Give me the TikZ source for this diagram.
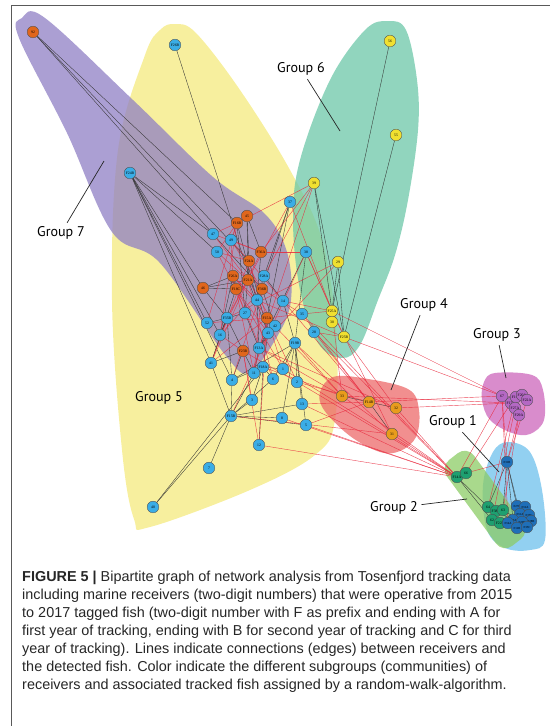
\documentclass[tikz,border=0pt]{standalone}
\usepackage{fontspec}
\setmainfont{Liberation Sans}
\newfontfamily\grpfont{PT Sans}
\newfontfamily\vtxfont{Liberation Serif}
\usetikzlibrary{positioning}

\definecolor{hullseven}{HTML}{8F7FC4}
\definecolor{hullfive}{HTML}{F4EA7E}
\definecolor{hullsix}{HTML}{6CC7A8}
\definecolor{hullfour}{HTML}{EC6A6A}
\definecolor{hullthree}{HTML}{CC66BB}
\definecolor{hullone}{HTML}{6EC0EC}
\definecolor{hulltwo}{HTML}{8CCC66}
\definecolor{vblue}{HTML}{3AADE6}
\definecolor{vorange}{HTML}{E0661C}
\definecolor{vyellow}{HTML}{F0E030}
\definecolor{vgold}{HTML}{E89C1C}
\definecolor{vmagenta}{HTML}{B468C4}
\definecolor{vdarkblue}{HTML}{1F6FB8}
\definecolor{vgreen}{HTML}{1EA070}
\definecolor{edgered}{HTML}{E8283C}

\pgfdeclarelayer{hulls}
\pgfdeclarelayer{edges}
\pgfsetlayers{hulls,edges,main}

\tikzset{
  vtx/.style={circle, draw=black!70, line width=0.3pt, minimum size=3.5mm, inner sep=0pt,
    font=\vtxfont\fontsize{3.2}{3.2}\selectfont},
  bluevtx/.style={vtx, fill=vblue},
  orangevtx/.style={vtx, fill=vorange},
  yellowvtx/.style={vtx, fill=vyellow},
  goldvtx/.style={vtx, fill=vgold},
  magentavtx/.style={vtx, fill=vmagenta},
  darkbluevtx/.style={vtx, fill=vdarkblue, font=\vtxfont\fontsize{2.6}{2.6}\selectfont},
  greenvtx/.style={vtx, fill=vgreen},
  darkedge/.style={black!80, line width=0.3pt},
  rededge/.style={edgered, line width=0.35pt, opacity=0.85},
  hull/.style={fill opacity=0.75},
  grplabel/.style={font=\grpfont\fontsize{12}{12}\selectfont, inner sep=3pt},
  leader/.style={black!85, line width=0.6pt}
}

\begin{document}
\begin{tikzpicture}[x=0.03cm, y=-0.03cm]
\useasboundingbox (0,0) rectangle (550,726);

% Frame
\draw[black!65, line width=0.7pt] (11.5,726) -- (11.5,5.5) -- (550,5.5);

% Group hulls
\begin{pgfonlayer}{hulls}
\fill[hullfive, hull] plot[smooth cycle, tension=0.6] coordinates {
  (175,24) (196,33) (240,90) (290,170) (322,240) (336,330) (335,420) (315,455)
  (250,490) (150,527) (134,519) (122,450) (112,300) (118,150) (145,55) (160,30)};
\fill[hullseven, hull] plot[smooth cycle, tension=0.6] coordinates {
  (22,18) (45,18) (133,100) (213,177) (265,214) (287,252) (291,300) (278,335)
  (250,372) (226,356) (160,263) (112,232) (67,133) (19,38)};
\fill[hullsix, hull] plot[smooth cycle, tension=0.6] coordinates {
  (388,21) (406,30) (417,80) (418,130) (408,200) (395,255) (378,300) (360,345)
  (342,358) (318,343) (300,290) (293,220) (300,160) (330,80) (365,30)};
\fill[hullfour, hull] plot[smooth cycle, tension=0.6] coordinates {
  (333,377) (362,378) (408,389) (419,410) (416,437) (400,451) (380,452)
  (350,436) (324,410) (320,392)};
\fill[hullthree, hull] plot[smooth cycle, tension=0.6] coordinates {
  (495,373) (532,375) (543,390) (544,420) (530,434) (512,433) (490,420) (482,400) (484,382)};
\fill[hullone, hull] plot[smooth cycle, tension=0.6] coordinates {
  (508,442) (530,452) (542,490) (545,540) (530,550) (505,548) (487,530) (483,485) (493,452)};
\fill[hulltwo, hull, rounded corners=3.5mm] (440,467) -- (467,446) -- (530,532) -- (503,553) -- cycle;
\end{pgfonlayer}

% Group 7
\foreach \n/\x/\y/\t in {r92/33/32/92, r45/247/216/45, fF16B/237/223/F16B,
  fF36A/261/252/F36A, fF24A/249/261/F24A, fF26A/233/276/F26A, fF21A/248/280/F21A,
  fF18C/236/289/F18C, fF36B/262/289/F36B, r46/203/288/46, fF15A/267/318/F15A,
  fF23B/243/351/F23B}
  \node[orangevtx] (\n) at (\x,\y) {\t};

% Group 5
\foreach \n/\x/\y/\t in {fF26B/175/45/F26B, fF24B/130/173/F24B, r47/213/234/47,
  r49/231/240/49, r50/217/252/50, fF28A/264/276/F28A, r44/257/300/44, r14/283/301/14,
  r52/207/323/52, fF35B/227/318/F35B, r27/245/313/27, r42/275/326/42, r43/268/333/43,
  r16/220/335/16, fF13A/259/348/F13A, r41/211/363/41, fF18A/263/367/F18A, r11/254/373/11,
  r1/283/369/1, r6/273/379/6, r4/232/380/4, r2/297/382/2, r3/252/400/3, r13/302/404/13,
  fF15B/231/416/F15B, r8/282/418/8, r5/306/425/5, r12/259/445/12, r7/209/468/7,
  r40/153/507/40, fF19B/295/343/F19B, r37/290/202/37, r38/306/252/38, r35/302/314/35,
  r28/314/332/28}
  \node[bluevtx] (\n) at (\x,\y) {\t};

% Group 6
\foreach \n/\x/\y/\t in {r56/390/41/56, r55/396/135/55, r39/314/183/39, r29/338/262/29,
  fF25A/332/311/F25A, r30/332/322/30, fF25B/344/337/F25B}
  \node[yellowvtx] (\n) at (\x,\y) {\t};

% Group 4
\foreach \n/\x/\y/\t in {r33/342/396/33, fF14B/369/402/F14B, r32/396/408/32, r31/392/434/31}
  \node[goldvtx] (\n) at (\x,\y) {\t};

% Group 3
\foreach \n/\x/\y/\t in {r67/502/396/67, fF17A/511/403/F17A, fF19C/516/397/F19C,
  fF20A/522/395/F20A, fF22A/527/400/F22A, fF27A/515/408/F27A, fF29A/519/415/F29A}
  \node[magentavtx] (\n) at (\x,\y) {\t};

% Group 2
\foreach \n/\x/\y/\t in {fF14A/457/477/F14A, r66/466/473/66, r64/488/507/64,
  fF38A/496/511/F38A, r63/503/510/63, r62/492/520/62, fF22B/500/523/F22B}
  \node[greenvtx] (\n) at (\x,\y) {\t};

% Group 1
\foreach \n/\x/\y/\t in {fF31B/507/462/F31B, fF27C/517/506/F27C, fF32A/525/507/F32A,
  fF31A/520/514/F31A, fF30C/529/515/F30C, fF28B/531/521/F28B, fF33A/513/520/F33A,
  fF29B/522/522/F29B, fF34A/508/523/F34A, fF12B/517/528/F12B, fF35C/527/527/F35C}
  \node[darkbluevtx] (\n) at (\x,\y) {\t};

\begin{pgfonlayer}{edges}
% Edges within groups
\foreach \a/\b in {r92/fF16B, r92/fF24A, r92/fF36B, fF26B/r44,
  fF24B/r47, fF24B/r50, fF24B/r46, fF24B/r52, fF24B/r16, fF24B/r41, fF24B/r4,
  r45/fF16B, r45/fF36A, r45/fF24A, r45/fF21A, r46/fF26A, r46/fF18C, r46/fF21A, r46/fF35B,
  fF16B/r44, fF16B/r27, fF36A/r44, fF24A/r27, fF24A/r43, fF26A/r16, fF21A/r43, fF18C/r41,
  fF36B/r42, fF15A/r43, fF23B/r41, fF23B/r4,
  fF35B/r52, fF35B/r16, fF35B/r41, fF35B/r4, fF35B/r27, fF35B/r11,
  fF13A/r43, fF13A/r42, fF13A/r44, fF13A/r27, fF13A/r11,
  fF18A/r11, fF18A/r6, fF18A/r1, fF18A/r3, fF18A/r43, fF18A/r12, fF18A/r40, fF18A/r4,
  fF15B/r7, fF15B/r4, fF15B/r3, fF15B/r8, fF15B/r5, fF15B/r13, fF15B/r40, fF15B/r41,
  fF15B/r11, fF15B/r6, fF19B/r2, fF19B/r13, fF19B/r5, fF19B/r8, fF19B/r6, fF19B/r1,
  fF19B/r14, fF19B/r4, fF28A/r44, fF28A/r14, fF28A/r37, r37/fF36B, r37/fF15A,
  r38/fF13A, r38/fF19B, r56/fF25A, r55/fF25B, r39/fF25A, r29/fF25A, r29/fF25B, r39/fF25B,
  r33/fF14B, r32/fF14B, r31/fF14B, r67/fF17A, r67/fF19C, r67/fF27A,
  fF14A/r66, fF14A/r64, fF14A/r62, fF31B/r64, fF31B/r63, fF31B/fF27C, fF31B/fF33A,
  fF31B/fF29B, r64/fF33A, r62/fF34A, r63/fF29B}
  \draw[darkedge] (\a) -- (\b);

% Edges between groups
\foreach \a/\b in {fF16B/r49, fF16B/r50, fF16B/r47, fF36A/r47, fF36A/r38, fF36A/r49,
  fF24A/r50, fF24A/r14, fF24A/r49, fF26A/r49, fF26A/r44, fF21A/r47, fF21A/r42, fF21A/r50,
  fF18C/r43, fF18C/r27, fF18C/r50, fF36B/r16, fF36B/r35, fF36B/r49, fF15A/r41, fF15A/r11,
  fF15A/r35, fF15A/r12, fF15A/r2, fF23B/r16, fF23B/r3, fF23B/r12, fF23B/r2,
  fF16B/r52, fF36A/r16, fF24A/r41, fF26A/r11, fF21A/r6, fF18C/r1, fF36B/r4, fF15A/r52,
  fF26A/r42, fF21A/r41, fF36B/r11, fF24A/r1, fF18C/r6, fF16B/r16,
  r39/fF16B, r39/fF36A, r39/fF13A, r39/fF28A, r37/fF25A, r38/fF25B, r38/fF25A, r35/fF25A,
  r28/fF25B, r14/fF25A, r44/fF25B, r29/fF35B, r29/fF13A, r37/fF35B, r38/fF15B,
  r33/fF19B, r33/fF18A, r33/fF15A, r33/fF13A, r33/fF25A, fF14B/r13, fF14B/r2, fF14B/r35,
  fF14B/r28, fF14B/r5, fF14B/r14, r32/fF25B, r31/fF25A, r31/fF19B, r32/fF13A, r31/fF15B,
  fF25A/r67, fF25B/r67, fF14B/r67, r33/fF17A, r32/fF17A, r33/fF14A, r32/fF14A, r31/fF14A,
  r13/fF14A, r5/fF14A, r2/fF14A, r12/fF14A, r8/fF14A, r28/fF14A, r35/fF14A, r1/fF14A,
  r67/fF31B, r67/fF14A, fF17A/r66, fF29A/r63, fF29A/fF31B, r67/fF34A, fF22A/fF31B,
  fF19C/r64, fF31B/r66, fF27A/r62}
  \draw[rededge] (\a) -- (\b);
\end{pgfonlayer}

% Group labels
\node[grplabel] (lbl7) at (61,233) {Group 7};
\node[grplabel] (lbl6) at (301,69) {Group 6};
\node[grplabel] (lbl5) at (159,398) {Group 5};
\node[grplabel] (lbl4) at (424,305) {Group 4};
\node[grplabel] (lbl3) at (497,335) {Group 3};
\node[grplabel] (lbl1) at (453,422) {Group 1};
\node[grplabel] (lbl2) at (394,508) {Group 2};
\coordinate (tip7) at (104,161);
\coordinate (tip6) at (340,131);
\coordinate (tip4) at (391,390);
\coordinate (tip3) at (506,378);
\coordinate (tip1) at (499,472);
\coordinate (tip2) at (467,499);
\foreach \l in {7,6,4,3,1,2}
  \draw[leader] (lbl\l) -- (tip\l);

% Caption
\node[anchor=north west, inner sep=0pt, align=left, text=black!85,
  font=\fontsize{12.3}{15.4}\selectfont] (caption) at (22,571)
  {\textbf{FIGURE 5 |} Bipartite graph of network analysis from Tosenfjord tracking data\\
   including marine receivers (two-digit numbers) that were operative from 2015\\
   to 2017 tagged fish (two-digit number with F as prefix and ending with A for\\
   first year of tracking, ending with B for second year of tracking and C for third\\
   year of tracking). Lines indicate connections (edges) between receivers and\\
   the detected fish. Color indicate the different subgroups (communities) of\\
   receivers and associated tracked fish assigned by a random-walk-algorithm.};
\end{tikzpicture}
\end{document}
